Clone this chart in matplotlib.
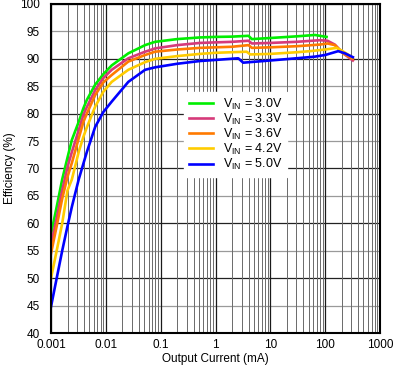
import matplotlib
matplotlib.use("Agg")
import matplotlib.pyplot as plt
from matplotlib.ticker import LogLocator, FixedLocator, NullFormatter, FixedFormatter

plt.rcParams['font.family'] = ['Liberation Sans', 'DejaVu Sans']

# ---- data ----
x_30 = [0.001, 0.0013, 0.0016, 0.002, 0.0024, 0.0032, 0.0039, 0.0045, 0.0064, 0.009, 0.0128,
        0.0257, 0.052, 0.079, 0.2, 0.52, 1, 2, 4.0, 4.6, 10, 30, 65, 106]
y_30 = [58, 63.5, 68, 72, 75.2, 78.5, 81, 82.5, 85.3, 87.2, 88.8,
        91.0, 92.5, 93.1, 93.6, 93.9, 94.0, 94.05, 94.2, 93.6, 93.8, 94.1, 94.35, 94.0]

x_33 = [0.001, 0.0013, 0.0016, 0.002, 0.0024, 0.0032, 0.0039, 0.0045, 0.0064, 0.009, 0.0128,
        0.0257, 0.052, 0.079, 0.2, 0.52, 1, 2, 4.0, 4.6, 10, 30, 80, 110, 150, 213, 320]
y_33 = [56, 61.5, 66, 70.3, 73, 77, 79.8, 81.2, 84.3, 86.5, 88.0,
        90.1, 91.3, 91.9, 92.5, 92.9, 93.0, 93.1, 93.3, 92.8, 92.9, 93.1, 93.4, 93.3, 92.6, 91.0, 89.7]

x_36 = [0.001, 0.0013, 0.0016, 0.002, 0.0024, 0.0032, 0.0039, 0.0045, 0.0064, 0.009, 0.0128,
        0.0257, 0.052, 0.079, 0.2, 0.52, 1, 2, 4.0, 4.6, 10, 30, 80, 110, 150, 213, 320]
y_36 = [54.5, 60, 64.5, 68.5, 71, 75.5, 78.5, 80, 83.4, 85.7, 87.05,
        89.5, 90.7, 91.3, 91.7, 92.0, 92.1, 92.2, 92.5, 92.0, 92.1, 92.3, 92.6, 92.8, 92.5, 91.0, 90.0]

x_42 = [0.001, 0.0013, 0.0016, 0.002, 0.0024, 0.0032, 0.0039, 0.0045, 0.0064, 0.009, 0.0128,
        0.0257, 0.052, 0.079, 0.2, 0.52, 1, 3.7, 4.3, 10, 30, 53, 100, 162, 200, 250, 310]
y_42 = [50, 55.5, 60, 66, 68, 73, 75.8, 77.5, 81.3, 84, 85.8,
        88.0, 89.4, 90.0, 90.5, 90.9, 91.1, 91.3, 90.8, 90.9, 91.2, 91.4, 91.7, 92.0, 91.5, 90.9, 90.3]

x_50 = [0.001, 0.0013, 0.0016, 0.002, 0.0024, 0.0032, 0.0045, 0.0064, 0.009, 0.0128,
        0.0257, 0.052, 0.079, 0.2, 0.52, 1, 2.6, 3.2, 10, 30, 65, 100, 173, 230, 320]
y_50 = [44.8, 50.5, 55, 59.5, 63, 68, 73, 77.6, 80.3, 82.2,
        85.8, 88.0, 88.45, 89.1, 89.6, 89.8, 90.1, 89.3, 89.7, 90.1, 90.4, 90.7, 91.4, 91.0, 90.3]

labels = [r'V$_{\mathregular{IN}}$ = 3.0V', r'V$_{\mathregular{IN}}$ = 3.3V',
          r'V$_{\mathregular{IN}}$ = 3.6V', r'V$_{\mathregular{IN}}$ = 4.2V',
          r'V$_{\mathregular{IN}}$ = 5.0V']
colors = ['#00EE00', '#D63A7A', '#FF7A00', '#FFCC00', '#0000FF']

x_ticks = [0.001, 0.01, 0.1, 1, 10, 100, 1000]
x_ticklabels = ['0.001', '0.01', '0.1', '1', '10', '100', '1000']
y_ticks = [40, 45, 50, 55, 60, 65, 70, 75, 80, 85, 90, 95, 100]

# ---- figure ----
fig = plt.figure(figsize=(3.94, 3.67), dpi=100)
ax = fig.add_axes([51/394, 1-333/367, 329/394, 329/367])
ax.set_xscale('log')
ax.set_xlim(0.001, 1000)
ax.set_ylim(40, 100)

ax.xaxis.set_major_locator(FixedLocator(x_ticks))
ax.xaxis.set_major_formatter(FixedFormatter(x_ticklabels))
ax.xaxis.set_minor_locator(LogLocator(base=10, subs=range(2, 10), numticks=20))
ax.xaxis.set_minor_formatter(NullFormatter())
ax.yaxis.set_major_locator(FixedLocator(y_ticks))
ax.set_yticklabels([str(v) for v in y_ticks])

ax.grid(which='major', axis='x', color='#1a1a1a', lw=0.9)
ax.grid(which='minor', axis='x', color='#6a6a6a', lw=0.7)
for v in y_ticks:
    ax.axhline(v, color='#222222' if v % 10 == 0 else '#9a9a9a', lw=0.9, zorder=0.5)
ax.set_axisbelow(True)

ax.tick_params(which='both', length=0, labelsize=8.5, colors='black')
ax.tick_params(axis='y', pad=8)
ax.tick_params(axis='x', pad=4)

series = [(x_30, y_30), (x_33, y_33), (x_36, y_36), (x_42, y_42), (x_50, y_50)]
for (xs, ys), lab, c in zip(series, labels, colors):
    ax.plot(xs, ys, color=c, lw=1.9, label=lab, solid_joinstyle='round')

for s in ax.spines.values():
    s.set_linewidth(1.5)
    s.set_color('black')

ax.set_xlabel('Output Current (mA)', fontsize=8.5, labelpad=2)
ax.set_ylabel('Efficiency (%)', fontsize=8.5, labelpad=3)

leg = ax.legend(loc='upper left', bbox_to_anchor=(0.405, 0.734), frameon=True,
                fontsize=9, handlelength=1.9, handletextpad=0.8, labelspacing=0.0,
                borderpad=0.4, borderaxespad=0, fancybox=False)
leg.get_frame().set_edgecolor('white')
leg.get_frame().set_facecolor('white')
leg.get_frame().set_alpha(1)

fig.savefig('out.png', dpi=100)
